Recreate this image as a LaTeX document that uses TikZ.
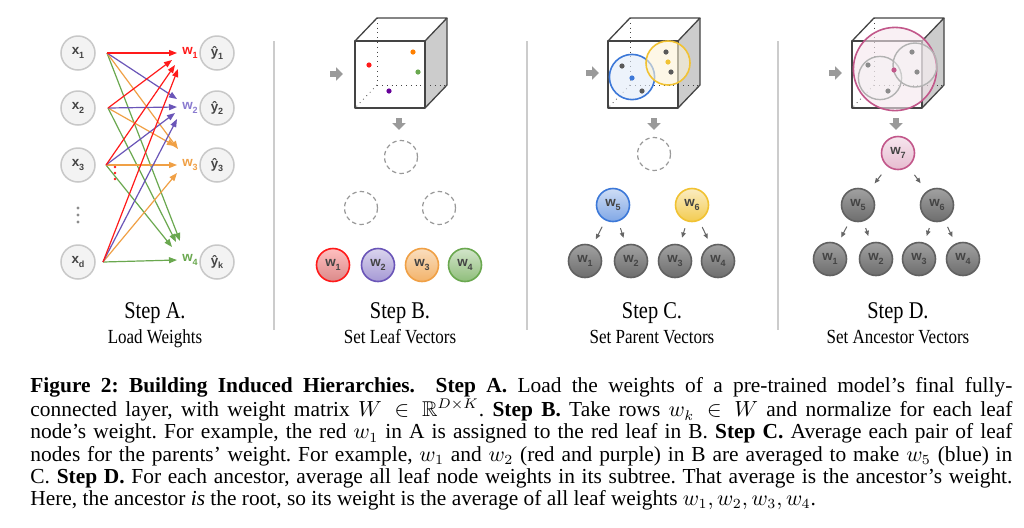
\documentclass[tikz,border=0pt]{standalone}
\usepackage{amssymb}
\usepackage{fontspec}
\setmainfont{Liberation Serif}
\setsansfont{Liberation Sans}
\newfontfamily\stepfont[FakeStretch=0.85]{Liberation Serif}
\usetikzlibrary{arrows.meta}
\definecolor{cred}{HTML}{FF1A1A}
\definecolor{cpur}{HTML}{6A55B8}
\definecolor{cpurl}{HTML}{8A7BD0}
\definecolor{corg}{HTML}{F0A045}
\definecolor{cgrn}{HTML}{6AA84F}
\definecolor{cblue}{HTML}{3C78D8}
\definecolor{cyel}{HTML}{F1C232}
\definecolor{cpink}{HTML}{C2578A}
\definecolor{labgray}{HTML}{444444}
\definecolor{ringgray}{HTML}{C8C8C8}
\definecolor{inpfill}{HTML}{F3F3F3}
\definecolor{sidegray}{HTML}{CCCCCC}
\definecolor{edgegray}{HTML}{444444}
\definecolor{sepgray}{HTML}{CCCCCC}
\definecolor{blockgray}{HTML}{9A9A9A}
\newcommand\nlab[2]{#1\raisebox{-0.45ex}{\fontsize{4.5}{5}\selectfont #2}}
\newcommand\drawcube[2]{%
  \fill[sidegray] ({#1+70},{#2}) -- ({#1+92},{#2-23}) -- ({#1+92},{#2+44}) -- ({#1+70},{#2+67}) -- cycle;
  \draw[hid] ({#1+22},{#2-23}) -- ({#1+22},{#2+44}) -- ({#1+92},{#2+44});
  \draw[hid] ({#1+22},{#2+44}) -- ({#1},{#2+67});
  \draw[edge] ({#1},{#2}) rectangle ({#1+70},{#2+67});
  \draw[edge] ({#1},{#2}) -- ({#1+22},{#2-23}) -- ({#1+92},{#2-23}) -- ({#1+70},{#2});
  \draw[edge] ({#1+92},{#2-23}) -- ({#1+92},{#2+44}) -- ({#1+70},{#2+67});
}
\begin{document}
\begin{tikzpicture}[x=0.5pt,y=-0.5pt,
  inp/.style={circle, draw=ringgray, fill=inpfill, line width=0.75pt, minimum size=17pt, inner sep=0pt,
    font=\sffamily\bfseries\fontsize{6.7}{7}\selectfont, text=labgray},
  wl/.style={inner sep=0pt, font=\sffamily\bfseries\fontsize{6.7}{7}\selectfont},
  nd/.style={circle, line width=0.8pt, minimum size=16.5pt, inner sep=0pt,
    font=\sffamily\bfseries\fontsize{6.7}{7}\selectfont, text=labgray},
  leafr/.style={nd, draw=cred, top color=red!25, bottom color=red!60!black!40!white!90!red},
  leafp/.style={nd, draw=cpur, top color=cpur!25, bottom color=cpur!60},
  leafo/.style={nd, draw=corg, top color=corg!35, bottom color=corg!80},
  leafg/.style={nd, draw=cgrn, top color=cgrn!30, bottom color=cgrn!75},
  nblue/.style={nd, draw=cblue, top color=cblue!25, bottom color=cblue!65},
  nyel/.style={nd, draw=cyel, top color=cyel!30, bottom color=cyel!85},
  npink/.style={nd, draw=cpink, top color=cpink!15, bottom color=cpink!40},
  ngray/.style={nd, draw=black!62, top color=black!37, bottom color=black!57},
  dashnode/.style={circle, draw=black!40, dashed, dash pattern=on 2.2pt off 1.6pt, line width=0.6pt, minimum size=16.5pt},
  conn/.style={line width=0.6pt, -{Triangle[length=4pt,width=3pt]}},
  tarr/.style={draw=black!60, line width=0.5pt, -{Triangle[length=2.6pt,width=2.2pt]}},
  blockarr/.style={draw=blockgray, line width=2.6pt, -{Triangle[length=3.4pt,width=6.4pt]}},
  edge/.style={draw=edgegray, line width=0.65pt, line join=round},
  hid/.style={draw=edgegray, line width=0.4pt, dotted},
  sep/.style={draw=sepgray, line width=0.6pt},
  steplbl/.style={font=\stepfont\fontsize{12}{13}\selectfont, anchor=base},
  subl/.style={font=\stepfont\fontsize{10}{11}\selectfont, anchor=base}
]
\useasboundingbox (0,0) rectangle (1024,527);
\fill[white] (0,0) rectangle (1024,527);

% separators
\draw[sep] (274,41) -- (274,330);
\draw[sep] (527,41) -- (527,330);
\draw[sep] (778,41) -- (778,330);

% ---------------- Panel A ----------------
\node[inp] (x1) at (78,53) {\nlab{x}{1}};
\node[inp] (x2) at (78,108) {\nlab{x}{2}};
\node[inp] (x3) at (78,165) {\nlab{x}{3}};
\node[inp] (xd) at (78,262) {\nlab{x}{d}};
\node[inp] (y1) at (217,53) {\nlab{\^{y}}{1}};
\node[inp] (y2) at (217,108) {\nlab{\^{y}}{2}};
\node[inp] (y3) at (217,165) {\nlab{\^{y}}{3}};
\node[inp] (yk) at (217,262) {\nlab{\^{y}}{k}};
\node[wl, text=cred] (w1) at (190,53) {\nlab{w}{1}};
\node[wl, text=cpurl] (w2) at (190,108) {\nlab{w}{2}};
\node[wl, text=corg] (w3) at (190,165) {\nlab{w}{3}};
\node[wl, text=cgrn] (w4) at (190,260) {\nlab{w}{4}};
\foreach \yy in {208,215,222} \fill[black!45] (78,\yy) circle[radius=0.8pt];
\foreach \yy in {167,173,179} \fill[cred] (115,\yy) circle[radius=0.7pt];

\coordinate (s1) at (107,53);
\coordinate (s2) at (108,108);
\coordinate (s3) at (106,165);
\coordinate (s4) at (103,262);
\coordinate (e11) at (177,53);  \coordinate (e21) at (172,60);  \coordinate (e31) at (175,65);  \coordinate (e41) at (178,69);
\coordinate (e12) at (177,99);  \coordinate (e22) at (177,107); \coordinate (e32) at (175,113); \coordinate (e42) at (177,119);
\coordinate (e13) at (178,149); \coordinate (e23) at (175,146); \coordinate (e33) at (177,165); \coordinate (e43) at (177,173);
\coordinate (e14) at (180,241); \coordinate (e24) at (176,242); \coordinate (e34) at (172,247); \coordinate (e44) at (177,260);

\foreach \s in {1,2,3,4} \draw[conn, cgrn] (s\s) -- (e\s4);
\foreach \s in {1,2,3,4} \draw[conn, corg] (s\s) -- (e\s3);
\foreach \s in {1,2,3,4} \draw[conn, cpur] (s\s) -- (e\s2);
\foreach \s in {1,2,3,4} \draw[conn, cred] (s\s) -- (e\s1);

\node[steplbl] (tA) at (155,318) {Step A.};
\node[subl] (sA) at (155,343) {Load Weights};

% ---------------- Panel B ----------------
\drawcube{355}{41}
\fill[cred] (369,65) circle[radius=1.3pt];
\fill[orange] (413,52) circle[radius=1.3pt];
\fill[cgrn] (418,72) circle[radius=1.3pt];
\fill[violet!80!blue] (389,91) circle[radius=1.3pt];
\coordinate (bha) at (330,74); \coordinate (bhb) at (343,74);
\draw[blockarr] (bha) -- (bhb);
\coordinate (bva) at (399,118); \coordinate (bvb) at (399,130);
\draw[blockarr] (bva) -- (bvb);
\node[dashnode] (bR) at (401,157) {};
\node[dashnode] (bL) at (361,208) {};
\node[dashnode] (bRR) at (439,208) {};
\node[leafr] (b1) at (333,265) {\nlab{w}{1}};
\node[leafp] (b2) at (378,265) {\nlab{w}{2}};
\node[leafo] (b3) at (422,265) {\nlab{w}{3}};
\node[leafg] (b4) at (465,265) {\nlab{w}{4}};
\node[steplbl] (tB) at (400,318) {Step B.};
\node[subl] (sB) at (400,343) {Set Leaf Vectors};

% ---------------- Panel C ----------------
\drawcube{608}{41}
\draw[draw=cblue, line width=0.8pt, fill=cblue!15, fill opacity=0.6] (632,77) circle[radius=11.3pt];
\draw[draw=cyel, line width=0.8pt, fill=cyel!20, fill opacity=0.6] (668,63) circle[radius=11pt];
\fill[black!65] (622,66) circle[radius=1.3pt];
\fill[black!65] (642,91) circle[radius=1.3pt];
\fill[cblue] (632,78) circle[radius=1.3pt];
\fill[black!65] (666,52) circle[radius=1.3pt];
\fill[cyel] (668,62) circle[radius=1.3pt];
\fill[black!65] (671,72) circle[radius=1.3pt];
\coordinate (cha) at (586,73); \coordinate (chb) at (599,73);
\draw[blockarr] (cha) -- (chb);
\coordinate (cva) at (654,118); \coordinate (cvb) at (654,130);
\draw[blockarr] (cva) -- (cvb);
\node[dashnode] (cR) at (654,154) {};
\node[nblue] (c5) at (613,205) {\nlab{w}{5}};
\node[nyel] (c6) at (692,205) {\nlab{w}{6}};
\node[ngray] (c1) at (585,261) {\nlab{w}{1}};
\node[ngray] (c2) at (631,261) {\nlab{w}{2}};
\node[ngray] (c3) at (675,261) {\nlab{w}{3}};
\node[ngray] (c4) at (718,261) {\nlab{w}{4}};
\draw[tarr, shorten <=3.5pt, shorten >=3.5pt] (c5) -- (c1);
\draw[tarr, shorten <=3.5pt, shorten >=3.5pt] (c5) -- (c2);
\draw[tarr, shorten <=3.5pt, shorten >=3.5pt] (c6) -- (c3);
\draw[tarr, shorten <=3.5pt, shorten >=3.5pt] (c6) -- (c4);
\node[steplbl] (tC) at (652,318) {Step C.};
\node[subl] (sC) at (652,343) {Set Parent Vectors};

% ---------------- Panel D ----------------
\drawcube{852}{41}
\draw[draw=cpink, line width=0.8pt, fill=cpink!15, fill opacity=0.6] (895,69) circle[radius=20.8pt];
\draw[draw=black!30, line width=0.7pt, fill=black!5, fill opacity=0.4] (880,78) circle[radius=10.8pt];
\draw[draw=black!30, line width=0.7pt, fill=black!5, fill opacity=0.4] (915,65) circle[radius=11pt];
\fill[black!45] (868,65) circle[radius=1.3pt];
\fill[black!45] (888,91) circle[radius=1.3pt];
\fill[black!45] (912,52) circle[radius=1.3pt];
\fill[black!45] (917,72) circle[radius=1.3pt];
\fill[cpink] (894,70) circle[radius=1.3pt];
\coordinate (dha) at (829,73); \coordinate (dhb) at (842,73);
\draw[blockarr] (dha) -- (dhb);
\coordinate (dva) at (896,118); \coordinate (dvb) at (896,130);
\draw[blockarr] (dva) -- (dvb);
\node[npink] (d7) at (898,153) {\nlab{w}{7}};
\node[ngray] (d5) at (858,205) {\nlab{w}{5}};
\node[ngray] (d6) at (937,205) {\nlab{w}{6}};
\node[ngray] (d1) at (830,259) {\nlab{w}{1}};
\node[ngray] (d2) at (876,259) {\nlab{w}{2}};
\node[ngray] (d3) at (919,259) {\nlab{w}{3}};
\node[ngray] (d4) at (963,259) {\nlab{w}{4}};
\draw[tarr, shorten <=5pt, shorten >=5pt] (d7) -- (d5);
\draw[tarr, shorten <=5pt, shorten >=5pt] (d7) -- (d6);
\draw[tarr, shorten <=3.5pt, shorten >=3.5pt] (d5) -- (d1);
\draw[tarr, shorten <=3.5pt, shorten >=3.5pt] (d5) -- (d2);
\draw[tarr, shorten <=3.5pt, shorten >=3.5pt] (d6) -- (d3);
\draw[tarr, shorten <=3.5pt, shorten >=3.5pt] (d6) -- (d4);
\node[steplbl] (tD) at (898,318) {Step D.};
\node[subl] (sD) at (898,343) {Set Ancestor Vectors};

% ---------------- Caption ----------------
\node[anchor=north west, inner sep=0pt, text width=491pt, align=justify,
      font=\fontsize{10.7}{11.1}\selectfont] (cap) at (30,377) {\frenchspacing
\textbf{Figure 2: Building Induced Hierarchies.\ \ Step A.} Load the weights of a pre-trained model's final fully-\linebreak
connected layer, with weight matrix $W \in \mathbb{R}^{D\times K}$. \textbf{Step B.} Take rows $w_k \in W$ and normalize for each leaf\linebreak
node's weight. For example, the red $w_1$ in A is assigned to the red leaf in B. \textbf{Step C.} Average each pair of leaf\linebreak
nodes for the parents' weight. For example, $w_1$ and $w_2$ (red and purple) in B are averaged to make $w_5$ (blue) in\linebreak
C. \textbf{Step D.} For each ancestor, average all leaf node weights in its subtree. That average is the ancestor's weight.\linebreak
Here, the ancestor \textit{is} the root, so its weight is the average of all leaf weights $w_1, w_2, w_3, w_4$.};
\end{tikzpicture}
\end{document}
